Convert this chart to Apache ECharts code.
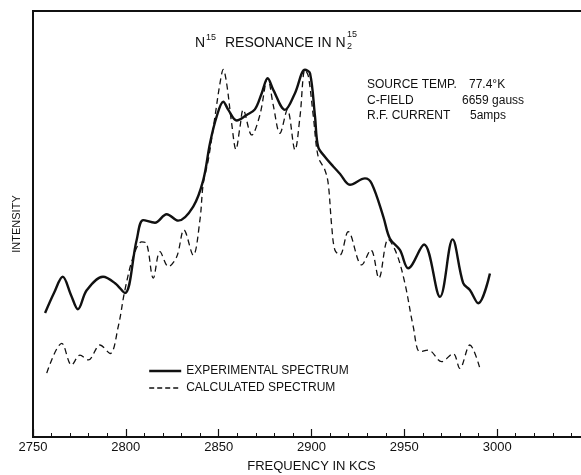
<!DOCTYPE html>
<html>
<head>
<meta charset="utf-8">
<script src="https://cdn.jsdelivr.net/npm/echarts@6/dist/echarts.min.js"></script>
<style>
  html, body { margin: 0; padding: 0; background: #fff; }
  #chart { width: 581px; height: 475px; }
</style>
</head>
<body>
<div id="chart"></div>
<script>
// experimental spectrum (solid), frequency in kcs / relative intensity
const expFreq = [2756.5, 2761.3, 2766, 2770.5, 2774.2, 2779, 2787.7, 2794.2, 2799.5, 2805.8,
  2809.4, 2815.7, 2822, 2828.2, 2836.3, 2841.7, 2845.3, 2848.9, 2852.5, 2855.2,
  2859.7, 2865.1, 2869.5, 2873.2, 2876.4, 2879.4, 2885.7, 2891.1, 2896.5, 2899.2,
  2901.9, 2903.6, 2907.2, 2911.7, 2915.3, 2920.7, 2928.8, 2932.4, 2938.7, 2942.2,
  2947.6, 2952.1, 2960.6, 2969.2, 2976, 2981.7, 2985.3, 2989.8, 2996.1];
const expIntensity = [29.1, 33.8, 37.6, 33.3, 30.0, 34.5, 37.6, 36.1, 33.8, 46.2,
  50.9, 50.3, 52.3, 50.8, 54.1, 60.3, 68.9, 75.2, 78.7, 76.8,
  74.3, 75.6, 76.9, 80.7, 84.2, 81.5, 76.8, 80.7, 86.2, 85.4,
  75.2, 68.1, 65.8, 63.5, 61.8, 59.2, 60.7, 59.5, 51.7, 46.6,
  43.9, 39.6, 45.2, 32.9, 46.4, 36.1, 34.5, 31.4, 38.4];

// calculated spectrum (dashed)
const calcFreq = [2757.4, 2765.5, 2770.8, 2775.3, 2779.8, 2786.1, 2791.5, 2795.9, 2799.5, 2804,
  2808.5, 2811.2, 2814.8, 2818.4, 2822.9, 2827.4, 2831.3, 2836.3, 2839.9, 2841.7,
  2844.4, 2848, 2850.7, 2852.5, 2854.3, 2857, 2859.3, 2861.5, 2863.2, 2867.8,
  2872.2, 2876.4, 2879.4, 2883, 2887, 2891.1, 2893.8, 2896.5, 2898.3, 2901,
  2903.6, 2907.2, 2909, 2910.9, 2912.6, 2915.3, 2919.8, 2927, 2932, 2936.3,
  2941.3, 2945.8, 2950.3, 2954.8, 2958.4, 2962.9, 2970.1, 2976.3, 2979.9, 2985.3,
  2990.7];
const calcIntensity = [15.0, 22.0, 16.9, 19.2, 18.1, 21.6, 19.6, 25.9, 34.5, 42.3,
  45.8, 45.4, 37.3, 43.5, 40.0, 42.3, 48.6, 42.7, 50.9, 59.5,
  65.0, 75.2, 83.0, 86.3, 83.0, 73.6, 67.5, 72.8, 76.8, 70.9,
  75.6, 84.2, 77.9, 71.3, 76.8, 67.4, 75.2, 86.2, 84.7, 75.2,
  65.8, 62.7, 59.5, 49.4, 43.9, 42.7, 48.2, 40.4, 43.9, 37.3,
  46.4, 43.1, 36.1, 25.9, 20.0, 20.4, 17.7, 19.6, 16.1, 21.6,
  16.1];

const xTickStep = 50;
const ink = '#111';
const face = 'Liberation Sans';

const zip = (a, b) => a.map((v, i) => [v, b[i]]);

const chart = echarts.init(document.getElementById('chart'));
chart.setOption({
  animation: false,
  backgroundColor: '#fff',
  // plot box runs past the right edge of the page, as in the scan
  grid: { left: 33, width: 557, top: 11, bottom: 38, outerBoundsMode: 'none',
    show: true, borderColor: ink, borderWidth: 2 },
  xAxis: {
    type: 'value', min: 2750, max: 3050, interval: xTickStep,
    name: 'FREQUENCY IN KCS', nameLocation: 'middle', nameGap: 23,
    nameTextStyle: { color: ink, fontFamily: face, fontSize: 13 },
    axisLine: { lineStyle: { color: ink, width: 2 } },
    axisTick: { inside: true, length: 8, lineStyle: { color: ink, width: 1.2 } },
    minorTick: { show: true, splitNumber: 5, length: 4, lineStyle: { color: ink, width: 1 } },
    axisLabel: { color: ink, fontFamily: face, fontSize: 13, margin: 4,
      formatter: v => (v > 3000 ? '' : String(v)) },
    splitLine: { show: false }
  },
  yAxis: {
    type: 'value', min: 0, max: 100,
    name: 'INTENSITY', nameLocation: 'middle', nameGap: 11,
    nameTextStyle: { color: ink, fontFamily: face, fontSize: 11 },
    axisLine: { show: true, lineStyle: { color: ink, width: 2 } },
    axisTick: { show: false },
    axisLabel: { show: false },
    splitLine: { show: false }
  },
  legend: {
    orient: 'vertical', left: 143, top: 360,
    itemWidth: 32, itemHeight: 12, itemGap: 5,
    textStyle: { color: ink, fontFamily: face, fontSize: 12 },
    itemStyle: { opacity: 0 },
    data: [
      { name: 'EXPERIMENTAL SPECTRUM', itemStyle: { opacity: 0 }, lineStyle: { color: ink, width: 2.4 } },
      { name: 'CALCULATED SPECTRUM', itemStyle: { opacity: 0 }, lineStyle: { color: ink, width: 1.3, type: [5, 3] } }
    ]
  },
  graphic: [
    { type: 'text', style: { x: 195, y: 43, text: 'N', fill: ink, font: '14px ' + face, verticalAlign: 'middle' } },
    { type: 'text', style: { x: 206, y: 38, text: '15', fill: ink, font: '9px ' + face, verticalAlign: 'middle' } },
    { type: 'text', style: { x: 225, y: 43, text: 'RESONANCE IN N', fill: ink, font: '14px ' + face, verticalAlign: 'middle' } },
    { type: 'text', style: { x: 347, y: 34.5, text: '15', fill: ink, font: '9px ' + face, verticalAlign: 'middle' } },
    { type: 'text', style: { x: 347, y: 46.5, text: '2', fill: ink, font: '9px ' + face, verticalAlign: 'middle' } },
    { type: 'text', style: { x: 367, y: 85, text: 'SOURCE TEMP.', fill: ink, font: '12px ' + face, verticalAlign: 'middle' } },
    { type: 'text', style: { x: 469, y: 85, text: '77.4°K', fill: ink, font: '12px ' + face, verticalAlign: 'middle' } },
    { type: 'text', style: { x: 367, y: 100.5, text: 'C-FIELD', fill: ink, font: '12px ' + face, verticalAlign: 'middle' } },
    { type: 'text', style: { x: 462, y: 100.5, text: '6659 gauss', fill: ink, font: '12px ' + face, verticalAlign: 'middle' } },
    { type: 'text', style: { x: 367, y: 116, text: 'R.F. CURRENT', fill: ink, font: '12px ' + face, verticalAlign: 'middle' } },
    { type: 'text', style: { x: 470, y: 116, text: '5amps', fill: ink, font: '12px ' + face, verticalAlign: 'middle' } }
  ],
  series: [
    {
      name: 'EXPERIMENTAL SPECTRUM', type: 'line', data: zip(expFreq, expIntensity),
      symbol: 'none', smooth: 0.35, itemStyle: { color: ink },
      lineStyle: { color: ink, width: 2.4 }
    },
    {
      name: 'CALCULATED SPECTRUM', type: 'line', data: zip(calcFreq, calcIntensity),
      symbol: 'none', smooth: 0.35, itemStyle: { color: ink },
      lineStyle: { color: ink, width: 1.3, type: [6, 4] }
    }
  ]
});
</script>
</body>
</html>
